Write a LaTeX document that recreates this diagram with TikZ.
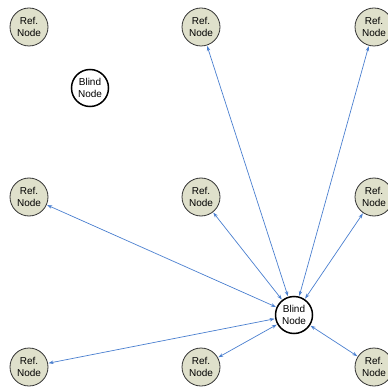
\documentclass[tikz,border=0pt]{standalone}
\usepackage{fontspec}
\setmainfont{Liberation Sans}
\usetikzlibrary{arrows.meta}
\begin{document}
\begin{tikzpicture}[x=1pt,y=-1pt,
  refnode/.style={circle,draw=black!80,line width=0.8pt,fill=refgreen,minimum size=38pt,inner sep=0pt,font=\fontsize{10}{11.5}\selectfont,align=center},
  blindnode/.style={circle,draw=black,line width=1.5pt,fill=white,minimum size=37pt,inner sep=0pt,font=\fontsize{10}{11.5}\selectfont,align=center},
  link/.style={draw=linkblue,line width=0.7pt,{Stealth[length=5pt,width=3.5pt]}-{Stealth[length=5pt,width=3.5pt]},shorten <=0.5pt,shorten >=0.5pt}]
\definecolor{refgreen}{HTML}{DFE0CB}
\definecolor{linkblue}{HTML}{4A7FCF}
\useasboundingbox (0,0) rectangle (387,387);
\node[refnode] (r11) at (29,27) {Ref.\\Node};
\node[refnode] (r12) at (201,27) {Ref.\\Node};
\node[refnode] (r13) at (374,27) {Ref.\\Node};
\node[refnode] (r21) at (29,197) {Ref.\\Node};
\node[refnode] (r22) at (201,197) {Ref.\\Node};
\node[refnode] (r23) at (374,197) {Ref.\\Node};
\node[refnode] (r31) at (29,367) {Ref.\\Node};
\node[refnode] (r32) at (201,367) {Ref.\\Node};
\node[refnode] (r33) at (374,367) {Ref.\\Node};
\node[blindnode] (b1) at (90,88) {Blind\\Node};
\node[blindnode] (b2) at (294,315) {Blind\\Node};
\foreach \t in {r12,r13,r21,r22,r23,r31,r32,r33}
  \draw[link] (b2) -- (\t);
\end{tikzpicture}
\end{document}
